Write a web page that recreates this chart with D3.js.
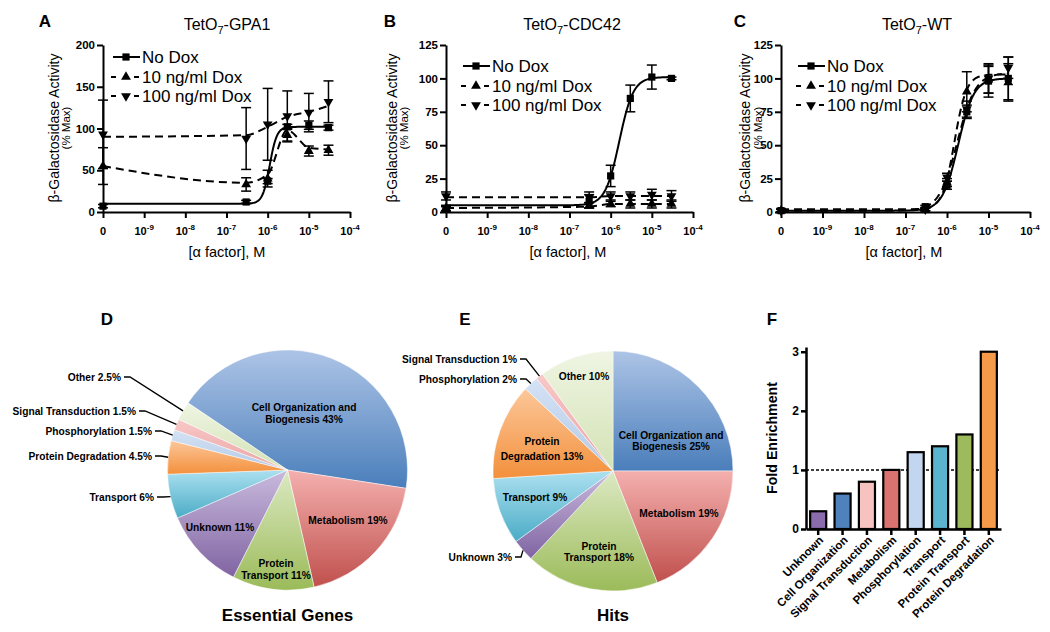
<!DOCTYPE html>
<html><head><meta charset="utf-8">
<script src="https://cdn.jsdelivr.net/npm/d3@7"></script>
<style>body{margin:0;background:#fff;} svg{display:block;}</style>
</head><body>
<svg id="chart" width="1050" height="632"></svg>
<script>
// ================= DATA =================
// Panels A–C (dose response)
const concentrations = [0, 3e-7, 1e-6, 3e-6, 1e-5, 3e-5];
const seriesNames = ["No Dox", "10 ng/ml Dox", "100 ng/ml Dox"];
const xTickValues = [0, 1e-9, 1e-8, 1e-7, 1e-6, 1e-5, 1e-4];
const xTickBase = ["0", "10", "10", "10", "10", "10", "10"];
const xTickExp = ["", "-9", "-8", "-7", "-6", "-5", "-4"];
const gpa1YTicks = [0, 50, 100, 150, 200];
const pctYTicks = [0, 25, 50, 75, 100, 125];

// A: TetO7-GPA1
const gpa1NoDox = [7, 12, 37, 102, 104, 101];
const gpa1NoDoxErr = [2, 2, 3, 3, 5, 3];
const gpa1Dox10 = [55, 33, 40, 92, 73, 74];
const gpa1Dox10Err = [22, 8, 10, 8, 6, 6];
const gpa1Dox100 = [93, 88, 105, 115, 119, 132];
const gpa1Dox100Err = [41, 37, 43, 30, 23, 25];
const gpa1NoDoxFit = [10, 102, -5.95, 5];          // bottom, top, logEC50, hill
const gpa1Dox10Line = [55, 35, 45, 98, 77, 75];
const gpa1Dox100Line = [90, 92, 102, 114, 120, 127];

// B: TetO7-CDC42
const cdc42NoDox = [2, 8, 27, 85, 101, 100];
const cdc42NoDoxErr = [2, 5, 8, 10, 9, 1];
const cdc42Dox10 = [3, 5, 6, 6, 6, 6];
const cdc42Dox10Err = [2, 2, 2, 3, 3, 3];
const cdc42Dox100 = [12, 11, 12, 12, 13, 12];
const cdc42Dox100Err = [3, 4, 3, 3, 4, 4];
const cdc42NoDoxFit = [5, 101, -5.79, 2.55];
const cdc42Dox10Line = [3, 4, 6, 6, 6, 6];
const cdc42Dox100Line = [11, 11, 12, 12, 12, 12];

// C: TetO7-WT
const wtNoDox = [1, 4, 20, 75, 98, 100];
const wtNoDoxErr = [1, 1, 3, 5, 12, 16];
const wtDox10 = [1, 2, 22, 90, 99, 97];
const wtDox10Err = [1, 1, 3, 15, 10, 14];
const wtDox100 = [1, 2, 26, 77, 100, 108];
const wtDox100Err = [1, 1, 3, 6, 11, 8];
const wtNoDoxFit = [1, 100, -5.73, 2.3];
const wtDox10Fit = [2, 103, -5.82, 3.0];
const wtDox100Fit = [1, 104, -5.75, 2.0];

// D, E: pies
const pieCategories = ["Cell Organization and Biogenesis", "Metabolism", "Protein Transport", "Unknown",
  "Transport", "Protein Degradation", "Phosphorylation", "Signal Transduction", "Other"];
const essentialPercents = [43, 19, 11, 11, 6, 4.5, 1.5, 1.5, 2.5];
const hitsPercents = [25, 19, 18, 3, 9, 13, 2, 1, 10];

// F: fold enrichment
const enrichCategories = ["Unknown", "Cell Organization", "Signal Transduction", "Metabolism",
  "Phosphorylation", "Transport", "Protein Transport", "Protein Degradation"];
const enrichValues = [0.3, 0.6, 0.8, 1.0, 1.3, 1.4, 1.6, 3.0];
const enrichTicks = [0, 1, 2, 3];

// ================= STYLE =================
const FONT = '"Liberation Sans", Arial, Helvetica, sans-serif';
const pieGradients = [
  ["#adc4e6", "#4a7ebb"], ["#f4b0ae", "#c0504d"], ["#dce9c3", "#9bbb59"], ["#c9badd", "#8064a2"],
  ["#ace0f0", "#4bacc6"], ["#fcc79a", "#f3903c"], ["#d4e2f4", "#b4cae7"], ["#f8c8c8", "#eba4a4"],
  ["#eff5e3", "#d3e2b4"]
];
const barColors = ["#8a6bab", "#4f81bd", "#f7c3c1", "#d9736f", "#c3d6ef", "#5bb4cd", "#9dbb5c", "#f59a48"];

const svg = d3.select("#chart").attr("font-family", FONT);

function letter(t, x, y) {
  svg.append("text").attr("x", x).attr("y", y).attr("text-anchor", "middle")
    .attr("font-size", 17).attr("font-weight", "bold").text(t);
}

// ================= A–C =================
const symSquare = d3.symbol().type(d3.symbolSquare).size(52)();
const symTri = d3.symbol().type(d3.symbolTriangle).size(42)();

function drawDose(cfg) {
  const g = svg.append("g");
  const yBot = 212, yTop = 45;
  const x = d3.scaleLog().domain([1e-10, 1e-4]).range([cfg.x0, cfg.x1]);
  const xp = c => c === 0 ? x(1e-10) : x(c);
  const y = d3.scaleLinear().domain([0, cfg.yMax]).range([yBot, yTop]);

  // title
  const t = g.append("text").attr("x", cfg.titleX).attr("y", 30).attr("text-anchor", "middle").attr("font-size", 16);
  t.append("tspan").text("TetO");
  t.append("tspan").attr("font-size", 11).attr("dy", 4).text("7");
  t.append("tspan").attr("dy", -4).text(cfg.titleRest);

  // axes
  const xa = g.append("g").attr("transform", `translate(0,${yBot})`)
    .call(d3.axisBottom(x).tickValues(xTickValues.map(v => v === 0 ? 1e-10 : v)).tickSize(6).tickSizeOuter(0).tickFormat(""));
  xa.selectAll("path,line").attr("stroke", "#000").attr("stroke-width", 2);
  xTickValues.forEach((v, i) => {
    const tx = g.append("text").attr("x", xp(v)).attr("y", 235).attr("text-anchor", "middle")
      .attr("font-size", 11).attr("font-weight", "bold");
    tx.append("tspan").text(xTickBase[i]);
    if (xTickExp[i]) tx.append("tspan").attr("font-size", 8).attr("dy", -5).text(xTickExp[i]);
  });
  const ya = g.append("g").attr("transform", `translate(${cfg.x0},0)`)
    .call(d3.axisLeft(y).tickValues(cfg.yTicks).tickSize(6).tickPadding(2).tickSizeOuter(0));
  ya.selectAll("path,line").attr("stroke", "#000").attr("stroke-width", 2);
  ya.selectAll("text").attr("font-family", FONT).attr("font-size", 11.5).attr("font-weight", "bold").attr("fill", "#000");

  // axis titles
  g.append("text").attr("x", cfg.xTitleX).attr("y", 257).attr("text-anchor", "middle").attr("font-size", 14.5)
    .text("[\u03b1 factor], M");
  g.append("text").attr("transform", `translate(${cfg.yLab1},128) rotate(-90)`).attr("text-anchor", "middle")
    .attr("dominant-baseline", "central").attr("font-size", 14).text("\u03b2-Galactosidase Activity");
  g.append("text").attr("transform", `translate(${cfg.yLab2},128) rotate(-90)`).attr("text-anchor", "middle")
    .attr("dominant-baseline", "central").attr("font-size", 11.5).text("(% Max)");

  // curves
  const lineGen = d3.line().x(d => d[0]).y(d => d[1]);
  const logs = d3.range(0, 301).map(i => -10 + i * (Math.log10(3e-5) + 10) / 300);
  cfg.series.forEach(s => {
    let pts;
    if (s.fit) {
      const p = s.fit;
      pts = logs.map(l => [x(Math.pow(10, l)), y(p[0] + (p[1] - p[0]) / (1 + Math.pow(10, (p[2] - l) * p[3])))]);
      g.append("path").attr("d", lineGen(pts)).attr("fill", "none").attr("stroke", "#000").attr("stroke-width", 2)
        .attr("stroke-dasharray", s.dashed ? "8,5" : null);
    } else {
      pts = concentrations.map((c, i) => [xp(c), y(s.line[i])]);
      g.append("path").attr("d", lineGen.curve(d3.curveMonotoneX)(pts)).attr("fill", "none").attr("stroke", "#000")
        .attr("stroke-width", 2).attr("stroke-dasharray", s.dashed ? "8,5" : null);
      lineGen.curve(d3.curveLinear);
    }
  });
  // error bars
  cfg.series.forEach(s => {
    concentrations.forEach((c, i) => {
      const cx = xp(c), lo = y(s.values[i] - s.err[i]), hi = y(s.values[i] + s.err[i]);
      g.append("line").attr("x1", cx).attr("x2", cx).attr("y1", lo).attr("y2", hi).attr("stroke", "#000").attr("stroke-width", 1.5);
      [lo, hi].forEach(yy => g.append("line").attr("x1", cx - 5).attr("x2", cx + 5).attr("y1", yy).attr("y2", yy)
        .attr("stroke", "#000").attr("stroke-width", 1.5));
    });
  });
  // markers
  cfg.series.forEach(s => {
    concentrations.forEach((c, i) => {
      g.append("path").attr("d", s.sym === "sq" ? symSquare : symTri)
        .attr("transform", `translate(${xp(c)},${y(s.values[i])})` + (s.sym === "down" ? " rotate(180)" : ""))
        .attr("fill", "#000");
    });
  });
  // legend
  cfg.series.forEach((s, i) => {
    const ly = cfg.legY[i], lx = cfg.legX;
    if (s.sym === "sq") {
      g.append("line").attr("x1", lx).attr("x2", lx + 27).attr("y1", ly).attr("y2", ly).attr("stroke", "#000").attr("stroke-width", 2);
    } else {
      [[lx - 2, lx + 3], [lx + 21, lx + 26]].forEach(d => g.append("line").attr("x1", d[0]).attr("x2", d[1])
        .attr("y1", ly).attr("y2", ly).attr("stroke", "#000").attr("stroke-width", 2));
    }
    g.append("path").attr("d", s.sym === "sq" ? symSquare : symTri)
      .attr("transform", `translate(${lx + 13},${ly})` + (s.sym === "down" ? " rotate(180)" : "")).attr("fill", "#000");
    g.append("text").attr("x", lx + 29).attr("y", ly + 6).attr("font-size", 17).text(seriesNames[i]);
  });
}

drawDose({
  x0: 103, x1: 350, yMax: 200, yTicks: gpa1YTicks, titleX: 227, titleRest: "-GPA1", xTitleX: 227,
  yLab1: 54, yLab2: 66, legX: 113, legY: [57, 77, 96],
  series: [
    { values: gpa1NoDox, err: gpa1NoDoxErr, fit: gpa1NoDoxFit, sym: "sq" },
    { values: gpa1Dox10, err: gpa1Dox10Err, line: gpa1Dox10Line, dashed: true, sym: "up" },
    { values: gpa1Dox100, err: gpa1Dox100Err, line: gpa1Dox100Line, dashed: true, sym: "down" }
  ]
});
drawDose({
  x0: 446, x1: 693, yMax: 125, yTicks: pctYTicks, titleX: 572, titleRest: "-CDC42", xTitleX: 568,
  yLab1: 392, yLab2: 404, legX: 463, legY: [66, 86, 105],
  series: [
    { values: cdc42NoDox, err: cdc42NoDoxErr, fit: cdc42NoDoxFit, sym: "sq" },
    { values: cdc42Dox10, err: cdc42Dox10Err, line: cdc42Dox10Line, dashed: true, sym: "up" },
    { values: cdc42Dox100, err: cdc42Dox100Err, line: cdc42Dox100Line, dashed: true, sym: "down" }
  ]
});
drawDose({
  x0: 781, x1: 1030, yMax: 125, yTicks: pctYTicks, titleX: 917, titleRest: "-WT", xTitleX: 904,
  yLab1: 745, yLab2: 758, legX: 798, legY: [66, 86, 105],
  series: [
    { values: wtNoDox, err: wtNoDoxErr, fit: wtNoDoxFit, sym: "sq" },
    { values: wtDox10, err: wtDox10Err, fit: wtDox10Fit, dashed: true, sym: "up" },
    { values: wtDox100, err: wtDox100Err, fit: wtDox100Fit, dashed: true, sym: "down" }
  ]
});
letter("A", 45, 27); letter("B", 390, 27); letter("C", 740, 27);

// ================= D, E =================
const defs = svg.append("defs");
pieGradients.forEach((c, i) => {
  const lg = defs.append("linearGradient").attr("id", "pg" + i).attr("x1", 0).attr("y1", 0).attr("x2", 0).attr("y2", 1);
  lg.append("stop").attr("offset", "0%").attr("stop-color", c[0]);
  lg.append("stop").attr("offset", "100%").attr("stop-color", c[1]);
});

function drawPie(cfg) {
  const g = svg.append("g");
  const start = cfg.startDeg * Math.PI / 180;
  const arcs = d3.pie().sort(null).value(d => d).startAngle(start).endAngle(start + 2 * Math.PI)(cfg.values);
  const arc = d3.arc().innerRadius(0).outerRadius(cfg.r);
  g.selectAll("path.slice").data(arcs).join("path").attr("class", "slice")
    .attr("transform", `translate(${cfg.cx},${cfg.cy})`).attr("d", arc)
    .attr("fill", (d, i) => `url(#pg${i})`).attr("stroke", "#fff").attr("stroke-width", 0.6).attr("stroke-opacity", 0.8);
  const fs = 10.2;
  cfg.inside.forEach(L => {
    L.lines.forEach((txt, k) => {
      g.append("text").attr("x", L.x).attr("y", L.y + (k - (L.lines.length - 1) / 2) * L.sp + 3.6)
        .attr("text-anchor", "middle").attr("font-size", fs).attr("font-weight", "bold").text(txt);
    });
  });
  cfg.outside.forEach(L => {
    const a = arcs[L.idx];
    const mid = (a.startAngle + a.endAngle) / 2;
    const tx = cfg.cx + cfg.r * Math.sin(mid), ty = cfg.cy - cfg.r * Math.cos(mid);
    g.append("text").attr("x", L.x).attr("y", L.y + 3.6).attr("text-anchor", "end")
      .attr("font-size", fs).attr("font-weight", "bold").text(L.text);
    g.append("polyline").attr("points", `${L.x + 3},${L.y} ${L.x + 9},${L.y} ${tx},${ty}`)
      .attr("fill", "none").attr("stroke", "#000").attr("stroke-width", 1.3);
  });
  g.append("text").attr("x", cfg.cx).attr("y", 621).attr("text-anchor", "middle").attr("font-size", 17)
    .attr("font-weight", "bold").text(cfg.title);
}

const pct = v => v + "%";
drawPie({
  cx: 287.5, cy: 470, r: 120, startDeg: -56, values: essentialPercents, title: "Essential Genes",
  inside: [
    { x: 304, y: 413.5, sp: 11.3, lines: ["Cell Organization and", "Biogenesis " + pct(essentialPercents[0])] },
    { x: 348, y: 520, sp: 0, lines: [pieCategories[1] + " " + pct(essentialPercents[1])] },
    { x: 276, y: 569.5, sp: 12.5, lines: ["Protein", "Transport " + pct(essentialPercents[2])] },
    { x: 220, y: 527, sp: 0, lines: [pieCategories[3] + " " + pct(essentialPercents[3])] }
  ],
  outside: [4, 5, 6, 7, 8].map((i, k) => ({
    idx: i, text: pieCategories[i] + " " + pct(essentialPercents[i]),
    x: [154, 152, 152, 136, 121][k], y: [497, 456, 431, 411, 377][k]
  }))
});
drawPie({
  cx: 613, cy: 471, r: 120, startDeg: 0, values: hitsPercents, title: "Hits",
  inside: [
    { x: 671, y: 440.5, sp: 11, lines: ["Cell Organization and", "Biogenesis " + pct(hitsPercents[0])] },
    { x: 679, y: 513, sp: 0, lines: [pieCategories[1] + " " + pct(hitsPercents[1])] },
    { x: 599, y: 552, sp: 10.7, lines: ["Protein", "Transport " + pct(hitsPercents[2])] },
    { x: 535, y: 497, sp: 0, lines: [pieCategories[4] + " " + pct(hitsPercents[4])] },
    { x: 542, y: 448.5, sp: 15, lines: ["Protein", "Degradation " + pct(hitsPercents[5])] },
    { x: 584, y: 376, sp: 0, lines: [pieCategories[8] + " " + pct(hitsPercents[8])] }
  ],
  outside: [
    { idx: 3, text: pieCategories[3] + " " + pct(hitsPercents[3]), x: 512, y: 557 },
    { idx: 6, text: pieCategories[6] + " " + pct(hitsPercents[6]), x: 517, y: 379 },
    { idx: 7, text: pieCategories[7] + " " + pct(hitsPercents[7]), x: 517, y: 359 }
  ]
});
letter("D", 107, 325); letter("E", 465, 325);

// ================= F =================
(function () {
  const g = svg.append("g");
  const x = d3.scaleBand().domain(enrichCategories).range([806, 1001]).paddingInner(0.34).paddingOuter(0.17);
  const y = d3.scaleLinear().domain([0, 3.08]).range([529, 347]);
  g.append("line").attr("x1", 806).attr("x2", 1001).attr("y1", y(1)).attr("y2", y(1))
    .attr("stroke", "#000").attr("stroke-width", 1.5).attr("stroke-dasharray", "3,2");
  g.selectAll("rect").data(enrichValues).join("rect")
    .attr("x", (d, i) => x(enrichCategories[i])).attr("y", d => y(d))
    .attr("width", x.bandwidth()).attr("height", d => y(0) - y(d))
    .attr("fill", (d, i) => barColors[i]).attr("stroke", "#000").attr("stroke-width", 2.2);
  const ya = g.append("g").attr("transform", "translate(806,0)")
    .call(d3.axisLeft(y).tickValues(enrichTicks).tickFormat(d3.format("d")).tickSize(5).tickPadding(2).tickSizeOuter(0));
  ya.selectAll("path,line").attr("stroke", "#000").attr("stroke-width", 2.5);
  ya.selectAll("text").attr("font-family", FONT).attr("font-size", 12).attr("font-weight", "bold").attr("fill", "#000");
  const xa = g.append("g").attr("transform", "translate(0,529)")
    .call(d3.axisBottom(x).tickSize(6).tickSizeOuter(0).tickFormat(""));
  xa.selectAll("path,line").attr("stroke", "#000").attr("stroke-width", 2.5);
  enrichCategories.forEach(c => {
    g.append("text").attr("transform", `translate(${x(c) + x.bandwidth() / 2 + 3},538) rotate(-45)`)
      .attr("text-anchor", "end").attr("dy", "0.35em").attr("font-size", 11.5).attr("font-weight", "bold").text(c);
  });
  g.append("text").attr("transform", "translate(772,438) rotate(-90)").attr("text-anchor", "middle")
    .attr("dominant-baseline", "central").attr("font-size", 14).attr("font-weight", "bold")
    .attr("textLength", 112).attr("lengthAdjust", "spacingAndGlyphs").text("Fold Enrichment");
})();
letter("F", 772, 325);
</script>
</body></html>
